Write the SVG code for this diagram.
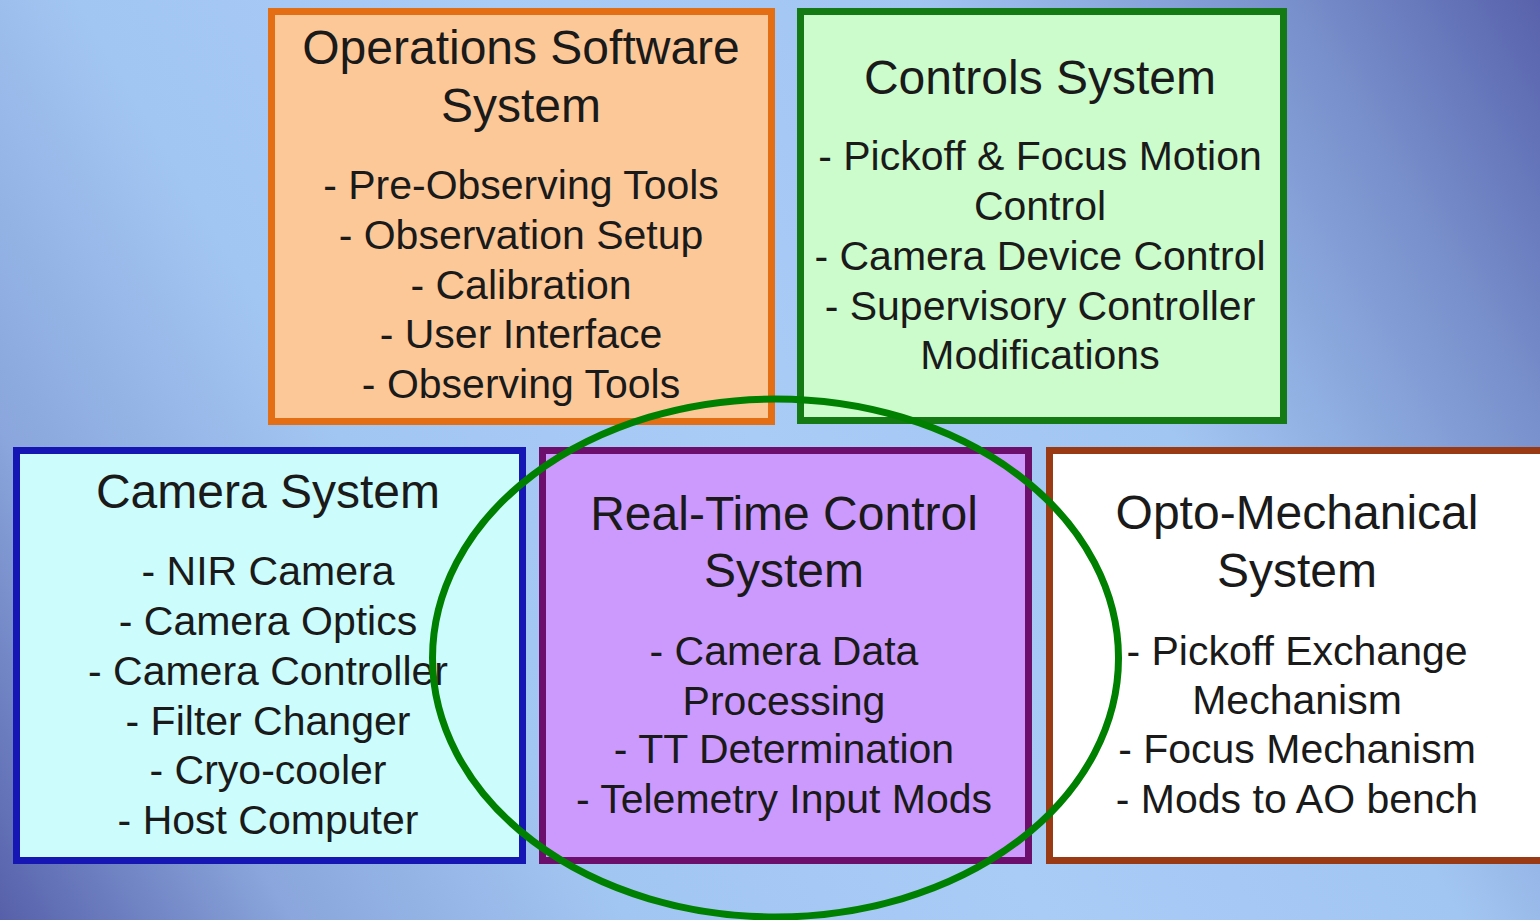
<svg xmlns="http://www.w3.org/2000/svg" width="1540" height="920" viewBox="0 0 1540 920">
<defs>
<linearGradient id="bg" x1="1540" y1="0" x2="0" y2="920" gradientUnits="userSpaceOnUse">
<stop offset="0" stop-color="#5862ac"/>
<stop offset="0.12" stop-color="#7890cc"/>
<stop offset="0.3" stop-color="#a2c6f2"/>
<stop offset="0.5" stop-color="#a8ccf6"/>
<stop offset="0.7" stop-color="#a2c6f2"/>
<stop offset="0.86" stop-color="#8aa6dc"/>
<stop offset="1" stop-color="#5660aa"/>
</linearGradient>
</defs>
<style>
.box{stroke-width:7}
.t{font-family:"Liberation Sans",Arial,sans-serif;fill:#1a1a1a;text-anchor:middle}
.h{font-size:48px}
.i{font-size:41px}
</style>
<rect x="0" y="0" width="1540" height="920" fill="url(#bg)"/>

<g id="operations">
<rect class="box" x="271.5" y="11.5" width="500" height="410" fill="#fdc898" stroke="#e46e14"/>
<text class="t h" x="521" y="64">Operations Software</text>
<text class="t h" x="521" y="122">System</text>
<text class="t i" x="521" y="199">- Pre-Observing Tools</text>
<text class="t i" x="521" y="249">- Observation Setup</text>
<text class="t i" x="521" y="299">- Calibration</text>
<text class="t i" x="521" y="348">- User Interface</text>
<text class="t i" x="521" y="398">- Observing Tools</text>
</g>

<g id="controls">
<rect class="box" x="800.5" y="11.5" width="483" height="409" fill="#ccfccc" stroke="#147a14"/>
<text class="t h" x="1040" y="94">Controls System</text>
<text class="t i" x="1040" y="170">- Pickoff &amp; Focus Motion</text>
<text class="t i" x="1040" y="220">Control</text>
<text class="t i" x="1040" y="270">- Camera Device Control</text>
<text class="t i" x="1040" y="320">- Supervisory Controller</text>
<text class="t i" x="1040" y="369">Modifications</text>
</g>

<g id="camera">
<rect class="box" x="16.5" y="450.5" width="506" height="410" fill="#ccfcfc" stroke="#1616b4"/>
<text class="t h" x="268" y="508">Camera System</text>
<text class="t i" x="268" y="585">- NIR Camera</text>
<text class="t i" x="268" y="635">- Camera Optics</text>
<text class="t i" x="268" y="685">- Camera Controller</text>
<text class="t i" x="268" y="735">- Filter Changer</text>
<text class="t i" x="268" y="784">- Cryo-cooler</text>
<text class="t i" x="268" y="834">- Host Computer</text>
</g>

<g id="realtime">
<rect class="box" x="542.5" y="450.5" width="486" height="410" fill="#cc99fc" stroke="#6c0e6c"/>
<text class="t h" x="784" y="530">Real-Time Control</text>
<text class="t h" x="784" y="587">System</text>
<text class="t i" x="784" y="665">- Camera Data</text>
<text class="t i" x="784" y="715">Processing</text>
<text class="t i" x="784" y="763">- TT Determination</text>
<text class="t i" x="784" y="813">- Telemetry Input Mods</text>
</g>

<g id="optomech">
<rect class="box" x="1049.5" y="450.5" width="500" height="410" fill="#ffffff" stroke="#9a3a14"/>
<text class="t h" x="1297" y="529">Opto-Mechanical</text>
<text class="t h" x="1297" y="587">System</text>
<text class="t i" x="1297" y="665">- Pickoff Exchange</text>
<text class="t i" x="1297" y="714">Mechanism</text>
<text class="t i" x="1297" y="763">- Focus Mechanism</text>
<text class="t i" x="1297" y="813">- Mods to AO bench</text>
</g>

<g id="connectors">
<ellipse cx="775.5" cy="658" rx="343" ry="259" fill="none" stroke="#008000" stroke-width="7"/>
</g>
</svg>
